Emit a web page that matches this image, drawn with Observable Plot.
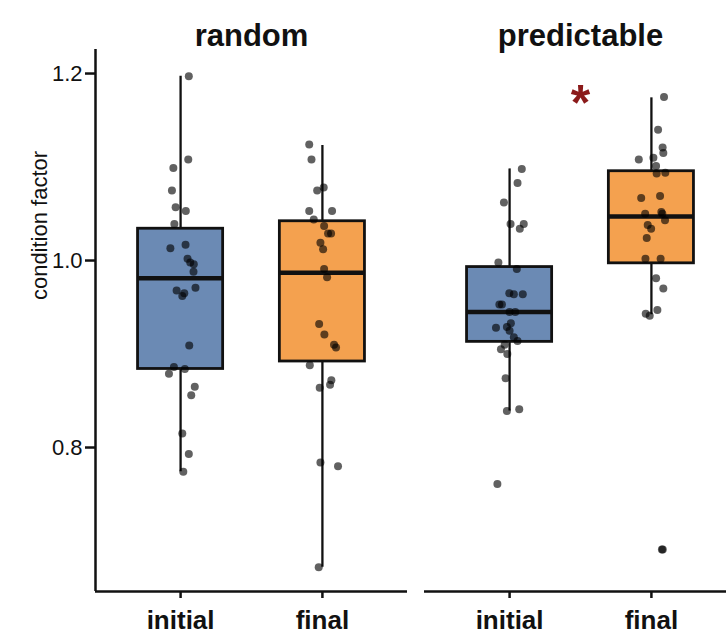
<!DOCTYPE html>
<html>
<head>
<meta charset="utf-8">
<script src="https://cdn.jsdelivr.net/npm/d3@7"></script>
<script src="https://cdn.jsdelivr.net/npm/@observablehq/plot@0.6"></script>
<style>
  html, body { margin: 0; padding: 0; background: #fff; overflow: hidden; }
  #chart { width: 726px; height: 634px; overflow: hidden; }
  #chart svg { max-width: none !important; width: 740px !important; height: 634px !important; }
</style>
</head>
<body>
<div id="chart"></div>
<script>
// ---- categories ----
const panels = ["random", "predictable"];
const timepoints = ["initial", "final"];
const yTicks = [0.8, 1.0, 1.2];
const yLabel = ["condition factor"];

// ---- box summaries ----
const boxPanel   = ["random", "random", "predictable", "predictable"];
const boxTime    = ["initial", "final", "initial", "final"];
const whiskerLow = [0.774, 0.672, 0.839, 0.942];
const quart1     = [0.884, 0.892, 0.913, 0.997];
const medians    = [0.981, 0.987, 0.945, 1.047];
const quart3     = [1.034, 1.042, 0.993, 1.0955];
const whiskerHigh= [1.197, 1.123, 1.098, 1.174];

// ---- individual fish (value, horizontal jitter in category units) ----
const randomInitialValues = [1.197, 1.108, 1.099, 1.075, 1.057, 1.053, 1.039, 1.017, 1.013, 1.002, 0.998, 0.996, 0.988, 0.971, 0.968, 0.965, 0.962, 0.909, 0.886, 0.884, 0.879, 0.865, 0.856, 0.815, 0.793, 0.774];
const randomInitialJitter = [0.058, 0.054, -0.051, -0.061, -0.035, 0.037, -0.044, 0.035, -0.072, 0.049, 0.068, 0.093, 0.091, 0.105, -0.028, 0.026, 0.012, 0.061, -0.047, 0.030, -0.082, 0.100, 0.075, 0.012, 0.058, 0.019];

const randomFinalValues = [1.124, 1.108, 1.075, 1.078, 1.053, 1.053, 1.044, 1.037, 1.029, 1.029, 1.019, 1.012, 0.991, 0.982, 0.932, 0.921, 0.910, 0.907, 0.888, 0.872, 0.867, 0.864, 0.784, 0.780, 0.672];
const randomFinalJitter = [-0.093, -0.077, -0.037, 0.009, -0.093, 0.068, -0.061, 0.012, 0.040, 0.061, -0.014, 0.005, 0.012, 0.033, -0.023, 0.014, 0.082, 0.096, -0.089, 0.063, 0.054, -0.019, -0.014, 0.110, -0.026];

const predictableInitialValues = [1.098, 1.083, 1.062, 1.039, 1.039, 1.034, 0.998, 0.991, 0.965, 0.964, 0.964, 0.953, 0.953, 0.945, 0.945, 0.933, 0.928, 0.929, 0.925, 0.918, 0.914, 0.910, 0.905, 0.900, 0.874, 0.839, 0.841, 0.761];
const predictableInitialJitter = [0.086, 0.056, -0.040, 0.007, 0.100, 0.072, -0.079, 0.051, -0.002, 0.030, 0.093, -0.072, -0.054, 0.000, 0.040, 0.009, -0.096, -0.019, 0.000, 0.030, 0.056, -0.035, -0.061, -0.016, -0.028, -0.019, 0.068, -0.086];

const predictableFinalValues = [1.175, 1.140, 1.121, 1.115, 1.108, 1.110, 1.101, 1.093, 1.094, 1.067, 1.069, 1.050, 1.052, 1.050, 1.043, 1.038, 1.034, 1.024, 1.002, 1.002, 0.981, 0.970, 0.943, 0.941, 0.947, 0.691, 0.691];
const predictableFinalJitter = [0.089, 0.047, 0.079, 0.084, -0.089, 0.014, 0.033, 0.037, 0.098, -0.072, 0.061, -0.044, 0.070, 0.077, 0.096, -0.026, -0.002, -0.033, -0.042, 0.065, 0.033, 0.084, -0.040, -0.012, 0.042, 0.074, 0.080];

// ---- significance marker ----
const sigPanel = ["predictable"];
const sigPosition = [1.5];
const sigValue = [1.167];
const sigLabel = ["*"];

// ---- build tables ----
const groups = [
  {panel: "random", time: "initial", values: randomInitialValues, jitter: randomInitialJitter},
  {panel: "random", time: "final", values: randomFinalValues, jitter: randomFinalJitter},
  {panel: "predictable", time: "initial", values: predictableInitialValues, jitter: predictableInitialJitter},
  {panel: "predictable", time: "final", values: predictableFinalValues, jitter: predictableFinalJitter}
];
const points = groups.flatMap(g => g.values.map((v, i) => ({panel: g.panel, time: g.time, value: v, jitter: g.jitter[i]})));
const boxes = boxPanel.map((p, i) => ({
  panel: p, time: boxTime[i], lo: whiskerLow[i], q1: quart1[i], med: medians[i], q3: quart3[i], hi: whiskerHigh[i]
}));
const sig = sigPanel.map((p, i) => ({panel: p, pos: sigPosition[i], value: sigValue[i], label: sigLabel[i]}));
const yTitle = yLabel.map(t => ({panel: panels[0], text: t}));

const pos = d => timepoints.indexOf(d.time) + 1;
const half = 0.3;
const xDomain = [0.4, 2.6];
const yDomain = [0.646, 1.2257];
const ink = "#111";

const chart = Plot.plot({
  width: 740,
  height: 634,
  marginTop: 49,
  marginBottom: 43,
  marginLeft: 94,
  marginRight: 3.4,
  style: {fontFamily: "'Liberation Sans', Arial, sans-serif", background: "#fff", color: ink, maxWidth: "none"},
  fx: {domain: panels, paddingInner: 0.0504, paddingOuter: 0, label: null},
  x: {domain: xDomain},
  y: {domain: yDomain},
  color: {domain: timepoints, range: ["#6b8ab4", "#f4a14f"]},
  marks: [
    // whiskers
    Plot.ruleX(boxes, {x: pos, y1: "lo", y2: "hi", fx: "panel", stroke: ink, strokeWidth: 2.3}),
    // boxes
    Plot.rect(boxes, {x1: d => pos(d) - half, x2: d => pos(d) + half, y1: "q1", y2: "q3", fx: "panel",
      fill: "time", stroke: ink, strokeWidth: 2.8}),
    // medians
    Plot.ruleY(boxes, {y: "med", x1: d => pos(d) - half, x2: d => pos(d) + half, fx: "panel", stroke: ink, strokeWidth: 4.5}),
    // jittered fish
    Plot.dot(points, {x: d => pos(d) + d.jitter, y: "value", fx: "panel", r: 4, fill: "#000", fillOpacity: 0.62, stroke: "none"}),
    // significance
    Plot.text(sig, {x: "pos", y: "value", fx: "panel", text: "label", fill: "#8b1a1a", fontSize: 50, fontWeight: "bold", lineAnchor: "middle"}),
    // axis lines
    Plot.ruleY([yDomain[0]], {stroke: ink, strokeWidth: 2.5}),
    Plot.ruleX([{panel: panels[0]}], {x: () => xDomain[0], fx: "panel", stroke: ink, strokeWidth: 2.5}),
    // axes
    Plot.axisY({ticks: yTicks, tickFormat: d3.format(".1f"), fontSize: 22, tickSize: 10, tickPadding: 3, strokeWidth: 2.5,
      label: null, color: ink}),
    Plot.text(yTitle, {fx: "panel", text: "text", frameAnchor: "left", textAnchor: "middle", rotate: -90, dx: -56, dy: -95,
      fontSize: 22, lineAnchor: "middle", fill: ink}),
    Plot.axisX({ticks: [1, 2], tickFormat: d => timepoints[d - 1], fontSize: 26, fontWeight: "bold", tickSize: 7,
      tickPadding: 12, strokeWidth: 2.5, label: null, color: ink}),
    Plot.axisFx({anchor: "top", tickSize: 0, tickPadding: 4, fontSize: 31, fontWeight: "bold", label: null, color: ink})
  ]
});
document.getElementById("chart").appendChild(chart);
</script>
</body>
</html>
